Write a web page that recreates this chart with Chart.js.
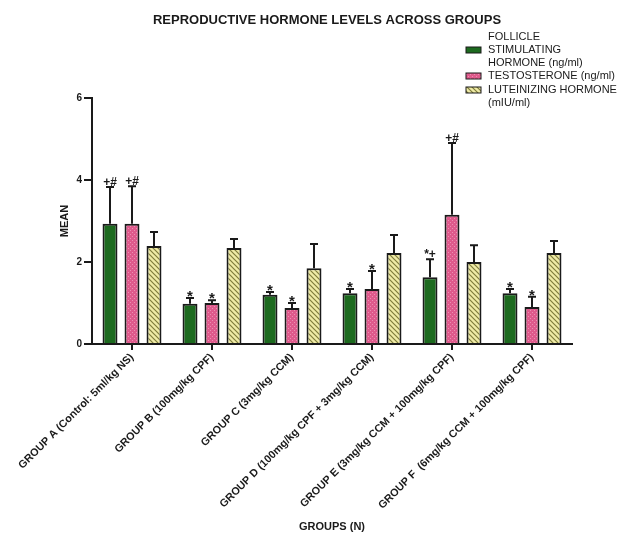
<!DOCTYPE html>
<html>
<head>
<meta charset="utf-8">
<script src="https://cdn.jsdelivr.net/npm/chart.js@4.4.1/dist/chart.umd.min.js"></script>
<style>
  html, body { margin: 0; padding: 0; background: #fff; }
  #wrap { width: 626px; height: 535px; position: relative; }
</style>
</head>
<body>
<div id="wrap"><canvas id="chart"></canvas></div>
<script>
const groups = [
  'GROUP A (Control: 5ml/kg NS)',
  'GROUP B (100mg/kg CPF)',
  'GROUP C (3mg/kg CCM)',
  'GROUP D (100mg/kg CPF + 3mg/kg CCM)',
  'GROUP E (3mg/kg CCM + 100mg/kg CPF)',
  'GROUP F  (6mg/kg CCM + 100mg/kg CPF)'
];

const fshMean = [2.93, 0.98, 1.20, 1.24, 1.63, 1.24];
const fshErr = [0.90, 0.14, 0.07, 0.10, 0.44, 0.10];
const fshMarks = ['+#', '*', '*', '*', '*+', '*'];

const testoMean = [2.93, 1.00, 0.88, 1.34, 3.15, 0.90];
const testoErr = [0.92, 0.07, 0.12, 0.44, 1.75, 0.25];
const testoMarks = ['+#', '*', '*', '*', '+#', '*'];

const lhMean = [2.39, 2.34, 1.85, 2.22, 2.00, 2.22];
const lhErr = [0.34, 0.22, 0.59, 0.44, 0.41, 0.29];
const lhMarks = ['', '', '', '', '', ''];

const yTicks = [0, 2, 4, 6];

const FONT = '"Liberation Sans", Arial, Helvetica, sans-serif';
const INK = '#1a1a1a';

function dotPattern() {
  const c = document.createElement('canvas');
  c.width = 4; c.height = 4;
  const g = c.getContext('2d');
  g.fillStyle = '#df5a8c';
  g.fillRect(0, 0, 4, 4);
  g.fillStyle = '#ee8fb2';
  g.fillRect(0, 0, 1, 1);
  g.fillRect(2, 2, 1, 1);
  return g.createPattern(c, 'repeat');
}

function stripePattern() {
  const c = document.createElement('canvas');
  c.width = 5; c.height = 5;
  const g = c.getContext('2d');
  g.fillStyle = '#efeba6';
  g.fillRect(0, 0, 5, 5);
  g.strokeStyle = '#7f7c3c';
  g.lineWidth = 1.2;
  g.beginPath();
  g.moveTo(-1, -1); g.lineTo(6, 6);
  g.moveTo(-1, 4); g.lineTo(1, 6);
  g.moveTo(4, -1); g.lineTo(6, 1);
  g.stroke();
  return g.createPattern(c, 'repeat');
}

const fills = ['#1d6a1f', dotPattern(), stripePattern()];

const legendLines = [
  { text: 'FOLLICLE', y: 37 },
  { text: 'STIMULATING', y: 50, swatch: 0 },
  { text: 'HORMONE (ng/ml)', y: 63 },
  { text: 'TESTOSTERONE (ng/ml)', y: 76, swatch: 1 },
  { text: 'LUTEINIZING HORMONE', y: 90, swatch: 2 },
  { text: '(mIU/ml)', y: 103 }
];

const overlay = {
  id: 'overlay',
  afterDatasetsDraw(chart) {
    const { ctx, scales: { y } } = chart;
    ctx.save();
    chart.data.datasets.forEach((ds, i) => {
      const meta = chart.getDatasetMeta(i);
      meta.data.forEach((bar, j) => {
        const top = bar.y;
        const errTop = y.getPixelForValue(ds.data[j] + ds.errors[j]);
        ctx.strokeStyle = INK;
        ctx.lineWidth = 2;
        ctx.beginPath();
        ctx.moveTo(bar.x, top);
        ctx.lineTo(bar.x, errTop);
        ctx.moveTo(bar.x - 4, errTop);
        ctx.lineTo(bar.x + 4, errTop);
        ctx.stroke();

        const mark = ds.marks[j];
        if (!mark) return;
        ctx.fillStyle = INK;
        ctx.textAlign = 'center';
        ctx.textBaseline = 'alphabetic';
        if (mark === '*') {
          ctx.font = 'bold 15px ' + FONT;
          ctx.fillText(mark, bar.x, errTop + 3);
        } else {
          ctx.font = 'bold 12px ' + FONT;
          ctx.fillText(mark, bar.x, errTop - 1);
        }
      });
    });
    ctx.restore();
  },
  afterDraw(chart) {
    const { ctx } = chart;
    ctx.save();
    ctx.fillStyle = INK;
    ctx.font = 'bold 13px ' + FONT;
    ctx.textAlign = 'center';
    ctx.textBaseline = 'middle';
    ctx.fillText('REPRODUCTIVE HORMONE LEVELS ACROSS GROUPS', 327, 20);

    ctx.font = '11px ' + FONT;
    ctx.textAlign = 'left';
    legendLines.forEach(line => {
      ctx.fillStyle = INK;
      ctx.fillText(line.text, 488, line.y);
      if (line.swatch != null) {
        ctx.fillStyle = fills[line.swatch];
        ctx.fillRect(466, line.y - 3, 15, 6);
        ctx.strokeStyle = INK;
        ctx.lineWidth = 1;
        ctx.strokeRect(466, line.y - 3, 15, 6);
      }
    });
    ctx.restore();
  }
};

function makeSet(label, data, errors, marks, fill) {
  return {
    label, data, errors, marks,
    backgroundColor: fill,
    borderColor: INK,
    borderWidth: 2,
    categoryPercentage: 0.825,
    barPercentage: 0.68
  };
}

new Chart(document.getElementById('chart'), {
  type: 'bar',
  data: {
    labels: groups,
    datasets: [
      makeSet('FOLLICLE STIMULATING HORMONE (ng/ml)', fshMean, fshErr, fshMarks, fills[0]),
      makeSet('TESTOSTERONE (ng/ml)', testoMean, testoErr, testoMarks, fills[1]),
      makeSet('LUTEINIZING HORMONE (mIU/ml)', lhMean, lhErr, lhMarks, fills[2])
    ]
  },
  options: {
    responsive: true,
    maintainAspectRatio: false,
    animation: false,
    layout: { padding: { top: 98, right: 54, left: 0, bottom: 0 } },
    plugins: {
      legend: { display: false },
      tooltip: { enabled: false }
    },
    scales: {
      x: {
        grid: { drawOnChartArea: false, offset: false, color: INK, lineWidth: 2, tickLength: 6 },
        border: { color: INK, width: 2 },
        ticks: {
          color: INK,
          font: { family: FONT, size: 10.8, weight: 'bold' },
          minRotation: 45,
          maxRotation: 45,
          autoSkip: false,
          padding: 1
        },
        title: {
          display: true,
          text: 'GROUPS (N)',
          color: INK,
          font: { family: FONT, size: 11, weight: 'bold' },
          padding: { top: 0, bottom: 1 }
        },
        afterFit: s => { s.height = 191; }
      },
      y: {
        min: 0,
        max: 6,
        afterBuildTicks: s => { s.ticks = yTicks.map(v => ({ value: v })); },
        grid: { drawOnChartArea: false, color: INK, lineWidth: 2, tickLength: 8 },
        border: { color: INK, width: 2 },
        ticks: {
          color: INK,
          font: { family: FONT, size: 10, weight: 'bold' },
          padding: 2
        },
        title: {
          display: true,
          text: 'MEAN',
          color: INK,
          font: { family: FONT, size: 11, weight: 'bold' },
          padding: { top: 58, bottom: 0 }
        },
        afterFit: s => { s.width = 92; }
      }
    }
  },
  plugins: [overlay]
});
</script>
</body>
</html>
